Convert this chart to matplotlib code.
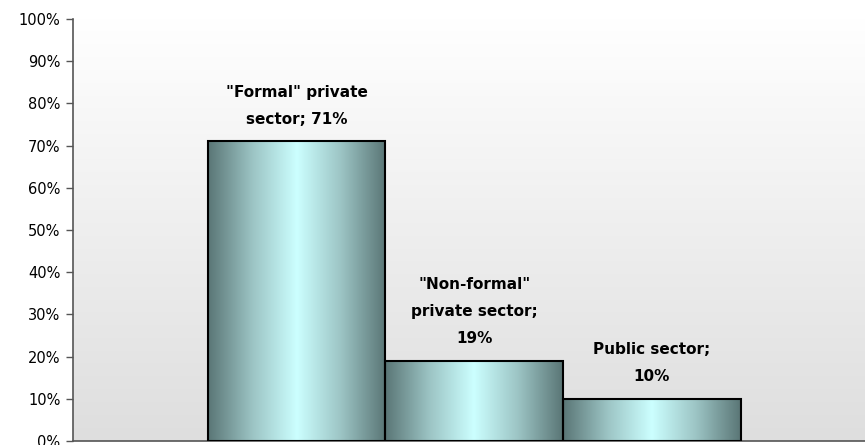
import matplotlib.pyplot as plt
import numpy as np
from matplotlib.colors import LinearSegmentedColormap
from matplotlib.ticker import FuncFormatter

plt.rcParams["font.family"] = ["DejaVu Sans"]

# share of employment by sector
sectors = ['"Formal" private\nsector; 71%',
           '"Non-formal"\nprivate sector;\n19%',
           'Public sector;\n10%']
shares = [0.71, 0.19, 0.10]
yticks = np.arange(0, 1.01, 0.1)

fig = plt.figure(figsize=(8.65, 4.45), dpi=100)
ax = fig.add_axes([73 / 865, 4 / 445, 1 - 73 / 865, 422 / 445])

# plot area: white at the top fading to light grey at the bottom
bg = LinearSegmentedColormap.from_list("bg", ["#dedede", "#ffffff"])
ax.imshow(np.linspace(0, 1, 256).reshape(-1, 1), cmap=bg, origin="lower",
          extent=[0, 1, 0, 1], transform=ax.transAxes, aspect="auto", zorder=0)

x = np.arange(len(shares))
bars = ax.bar(x, shares, width=1.0, facecolor="none", edgecolor="black",
              linewidth=1.5, zorder=3)

# metallic horizontal shading inside each bar
shade = LinearSegmentedColormap.from_list(
    "shade", ["#5a7676", "#9cc4c4", "#ccffff", "#9cc4c4", "#5a7676"])
grad = np.linspace(0, 1, 256).reshape(1, -1)
for b in bars:
    im = ax.imshow(grad, cmap=shade, aspect="auto", zorder=2,
                   extent=[b.get_x(), b.get_x() + b.get_width(), 0, b.get_height()])
    im.set_clip_path(b)

for xi, val, lab in zip(x, shares, sectors):
    ax.text(xi, val + 0.035, lab, ha="center", va="bottom", fontsize=11,
            fontweight="bold", linespacing=2.0, color="black", zorder=4)

ax.set_xlim(-1.258, 3.2)
ax.set_ylim(0, 1)
ax.set_yticks(yticks)
ax.yaxis.set_major_formatter(FuncFormatter(lambda v, p: f"{v:.0%}"))
ax.set_xticks([])
ax.tick_params(axis="y", direction="out", length=5, width=1, color="#555555",
               labelsize=10.5, pad=4)
for side in ("top", "right"):
    ax.spines[side].set_visible(False)
for side in ("left", "bottom"):
    ax.spines[side].set_color("#555555")
    ax.spines[side].set_linewidth(1.2)

fig.savefig("out.png", dpi=100)
